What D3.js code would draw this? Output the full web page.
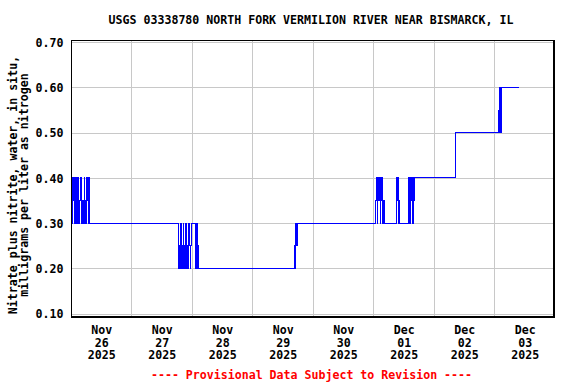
<!DOCTYPE html>
<html>
<head>
<meta charset="utf-8">
<script src="https://cdn.jsdelivr.net/npm/d3@7"></script>
<style>
  html, body { margin: 0; padding: 0; background: #fff; }
  svg { display: block; }
  text { font-family: "DejaVu Sans Mono", "Liberation Mono", monospace; font-weight: bold; }
</style>
</head>
<body>
<svg id="chart" width="576" height="384"></svg>
<script>
// ---- data ----
const title = "USGS 03338780 NORTH FORK VERMILION RIVER NEAR BISMARCK, IL";
const yTitleLines = ["Nitrate plus nitrite, water, in situ,", "milligrams per liter as nitrogen"];
const footnote = "---- Provisional Data Subject to Revision ----";
const yTickValues = [0.10, 0.20, 0.30, 0.40, 0.50, 0.60, 0.70];
const xTickDates = ["2025-11-26", "2025-11-27", "2025-11-28", "2025-11-29", "2025-11-30", "2025-12-01", "2025-12-02", "2025-12-03"];
const xGridDates = ["2025-11-27", "2025-11-28", "2025-11-29", "2025-11-30", "2025-12-01", "2025-12-02", "2025-12-03"];
const xDomain = ["2025-11-26 00:00", "2025-12-03 23:15"];
const yDomain = [0.095, 0.706];

const times = [
  "2025-11-26 00:00","2025-11-26 00:15","2025-11-26 00:30","2025-11-26 00:45","2025-11-26 01:00",
  "2025-11-26 01:15","2025-11-26 01:30","2025-11-26 01:45","2025-11-26 02:00","2025-11-26 02:15",
  "2025-11-26 02:30","2025-11-26 02:45","2025-11-26 03:00","2025-11-26 03:15","2025-11-26 03:30",
  "2025-11-26 03:45","2025-11-26 04:00","2025-11-26 04:15","2025-11-26 04:30","2025-11-26 04:45",
  "2025-11-26 05:00","2025-11-26 05:15","2025-11-26 05:30","2025-11-26 05:45","2025-11-26 06:00",
  "2025-11-26 06:15","2025-11-26 06:30","2025-11-26 06:45","2025-11-26 07:00","2025-11-26 07:15",
  "2025-11-27 18:15","2025-11-27 18:30","2025-11-27 18:45","2025-11-27 19:00","2025-11-27 19:15",
  "2025-11-27 19:30","2025-11-27 19:45","2025-11-27 20:00","2025-11-27 20:15","2025-11-27 20:30",
  "2025-11-27 20:45","2025-11-27 21:00","2025-11-27 21:15","2025-11-27 21:30","2025-11-27 21:45",
  "2025-11-27 22:00","2025-11-27 22:15","2025-11-27 22:30","2025-11-27 22:45","2025-11-27 23:00",
  "2025-11-27 23:15","2025-11-27 23:30","2025-11-27 23:45","2025-11-28 01:00","2025-11-28 01:15",
  "2025-11-28 01:30","2025-11-28 01:45","2025-11-28 02:00","2025-11-28 02:15","2025-11-28 02:30",
  "2025-11-29 16:30","2025-11-29 16:45","2025-11-29 17:00","2025-11-29 17:15","2025-11-29 17:30",
  "2025-11-29 17:45","2025-12-01 00:45","2025-12-01 01:00","2025-12-01 01:15","2025-12-01 01:30",
  "2025-12-01 01:45","2025-12-01 02:00","2025-12-01 02:15","2025-12-01 02:30","2025-12-01 02:45",
  "2025-12-01 03:00","2025-12-01 03:15","2025-12-01 03:30","2025-12-01 03:45","2025-12-01 04:00",
  "2025-12-01 04:15","2025-12-01 09:00","2025-12-01 09:15","2025-12-01 09:30","2025-12-01 09:45",
  "2025-12-01 10:00","2025-12-01 10:15","2025-12-01 10:30","2025-12-01 13:30","2025-12-01 13:45",
  "2025-12-01 14:00","2025-12-01 14:15","2025-12-01 14:30","2025-12-01 14:45","2025-12-01 15:00",
  "2025-12-01 15:15","2025-12-01 15:30","2025-12-01 15:45","2025-12-01 16:00","2025-12-01 16:15",
  "2025-12-02 08:30","2025-12-02 08:45","2025-12-03 01:15","2025-12-03 01:30","2025-12-03 01:45",
  "2025-12-03 02:00","2025-12-03 02:15","2025-12-03 02:30","2025-12-03 02:45","2025-12-03 09:45"
];
const values = [
  0.35,0.40,0.30,0.40,0.35,
  0.40,0.30,0.40,0.40,0.30,
  0.35,0.40,0.30,0.30,0.35,
  0.40,0.30,0.35,0.30,0.35,
  0.30,0.40,0.35,0.30,0.30,
  0.40,0.35,0.30,0.40,0.30,
  0.30,0.25,0.20,0.25,0.20,
  0.30,0.20,0.20,0.25,0.30,
  0.20,0.25,0.20,0.30,0.20,
  0.25,0.20,0.20,0.30,0.25,
  0.20,0.25,0.30,0.30,0.25,
  0.20,0.30,0.20,0.25,0.20,
  0.20,0.25,0.20,0.30,0.25,
  0.30,0.30,0.35,0.40,0.30,
  0.40,0.35,0.40,0.40,0.30,
  0.40,0.35,0.40,0.30,0.35,
  0.30,0.30,0.40,0.35,0.40,
  0.30,0.35,0.30,0.30,0.40,
  0.35,0.40,0.30,0.40,0.35,
  0.40,0.30,0.40,0.35,0.40,
  0.40,0.50,0.50,0.55,0.50,
  0.60,0.60,0.50,0.60,0.60
];

// ---- layout ----
const plot = { left: 71, top: 39.5, right: 553, bottom: 316 };
const parseT = d3.timeParse("%Y-%m-%d %H:%M");
const parseD = d3.timeParse("%Y-%m-%d");
const fmtMon = d3.timeFormat("%b"), fmtDay = d3.timeFormat("%d"), fmtYr = d3.timeFormat("%Y");

const x = d3.scaleTime().domain(xDomain.map(parseT)).range([plot.left, plot.right]);
const y = d3.scaleLinear().domain(yDomain).range([plot.bottom, plot.top]);

const svg = d3.select("#chart");
const fs = 11.6;

// grid
const grid = svg.append("g").attr("shape-rendering", "crispEdges").attr("stroke", "#c8c8c8").attr("stroke-width", 1);
grid.selectAll("line.h").data(yTickValues).join("line")
  .attr("x1", plot.left).attr("x2", plot.right)
  .attr("y1", d => Math.round(y(d)) + 0.5).attr("y2", d => Math.round(y(d)) + 0.5);
grid.selectAll("line.v").data(xGridDates.map(parseD)).join("line")
  .attr("y1", plot.top).attr("y2", plot.bottom)
  .attr("x1", d => Math.round(x(d)) + 0.5).attr("x2", d => Math.round(x(d)) + 0.5);

// data line
const pts = times.map((t, i) => [parseT(t), values[i]]);
svg.append("path")
  .datum(pts)
  .attr("fill", "none")
  .attr("stroke", "#0000ff")
  .attr("stroke-width", 1)
  .attr("shape-rendering", "crispEdges")
  .attr("d", d3.line().curve(d3.curveStepAfter).x(d => x(d[0])).y(d => y(d[1])));

// frame
const frame = svg.append("g").attr("stroke", "#000").attr("shape-rendering", "crispEdges");
frame.append("line").attr("x1", plot.left + 0.5).attr("x2", plot.left + 0.5).attr("y1", plot.top).attr("y2", plot.bottom + 1).attr("stroke-width", 1);
frame.append("line").attr("x1", plot.left).attr("x2", plot.right + 1).attr("y1", 40.5).attr("y2", 40.5).attr("stroke-width", 1);
frame.append("line").attr("x1", plot.right + 0.5).attr("x2", plot.right + 0.5).attr("y1", plot.top).attr("y2", plot.bottom + 1).attr("stroke-width", 2);
frame.append("line").attr("x1", plot.left).attr("x2", plot.right + 1.5).attr("y1", plot.bottom + 0.5).attr("y2", plot.bottom + 0.5).attr("stroke-width", 2);

// y axis labels
const yAxis = d3.axisLeft(y).tickValues(yTickValues).tickFormat(d3.format(".2f")).tickSize(0).tickPadding(7.5);
const gy = svg.append("g").attr("transform", `translate(${plot.left},0)`).call(yAxis);
gy.select(".domain").remove();
gy.selectAll("text").attr("font-size", fs).attr("fill", "#000").attr("dy", "0.36em");
gy.attr("font-family", null);

// x axis labels (noon of each day)
const xAxis = d3.axisBottom(x).tickValues(xTickDates.map(d => d3.timeHour.offset(parseD(d), 12))).tickSize(0).tickFormat("");
const gx = svg.append("g").attr("transform", `translate(0,${plot.bottom})`).call(xAxis);
gx.select(".domain").remove();
gx.attr("font-family", null);
gx.selectAll(".tick").each(function(d) {
  const t = d3.select(this).select("text").attr("font-size", fs).attr("fill", "#000").attr("y", 0).attr("dy", null);
  t.text(null);
  [fmtMon(d), fmtDay(d), fmtYr(d)].forEach((s, i) => {
    t.append("tspan").attr("x", 0).attr("y", 18 + i * 12.6).text(s);
  });
});

// title
svg.append("text").attr("x", 311).attr("y", 24).attr("text-anchor", "middle")
  .attr("font-size", fs).attr("fill", "#000").text(title);

// y title
const yt = svg.append("text").attr("transform", "translate(16.5,185) rotate(-90)")
  .attr("text-anchor", "middle").attr("font-size", fs).attr("fill", "#000");
yTitleLines.forEach((s, i) => yt.append("tspan").attr("x", 0).attr("y", i * 11.6).text(s));

// footnote
svg.append("text").attr("x", 311.5).attr("y", 378.5).attr("text-anchor", "middle")
  .attr("font-size", fs).attr("fill", "#ff0000").text(footnote);
</script>
</body>
</html>
